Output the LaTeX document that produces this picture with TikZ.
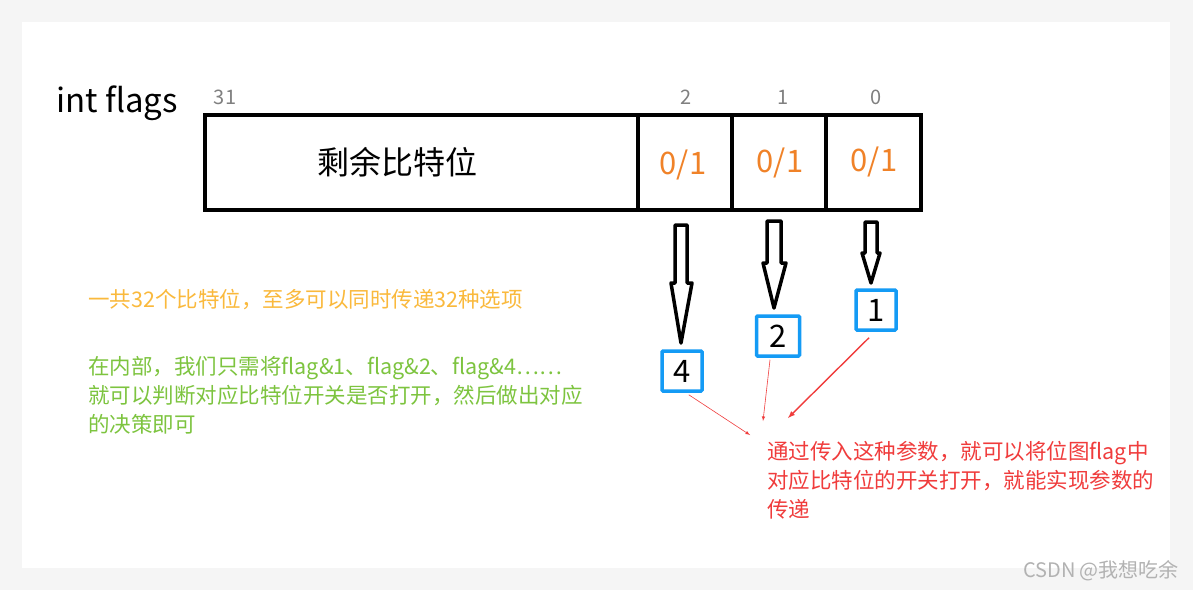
\documentclass[tikz,border=0pt]{standalone}
\usepackage{fontspec}
\setmainfont{Noto Sans CJK SC}
\begin{document}
\begin{tikzpicture}[x=1pt,y=-1pt,
  lbl/.style={font=\fontsize{21.5}{29}\selectfont,anchor=west,align=left,inner sep=0},
  bitno/.style={font=\fontsize{20}{24}\selectfont,text=gray},
  val/.style={font=\fontsize{31}{34}\selectfont,text={rgb,255:red,240;green,130;blue,40}},
  numbox/.style={draw={rgb,255:red,20;green,155;blue,245},line width=3.5pt,minimum width=40pt,minimum height=40pt,font=\fontsize{31}{34}\selectfont,inner sep=0,rounded corners=1pt},
  hollow/.style={draw=black,line width=3.5pt,fill=white,line join=round},
  redl/.style={draw={rgb,255:red,240;green,60;blue,60},-latex}]
\useasboundingbox (0,0) rectangle (1193,590);
\fill[gray!8] (0,0) rectangle (1193,590);
\fill[white] (22,22) rectangle (1170,568);
% main register
\draw[line width=4pt] (205,115) rectangle (921,210);
\foreach \x in {638,732,826} \draw[line width=3.5pt] (\x,115) -- (\x,210);
\node (rest) at (397,162) {\fontsize{32}{36}\selectfont 剩余比特位};
\node[val] (v2) at (683,165) {0/1};
\node[val] (v1) at (780,163) {0/1};
\node[val] (v0) at (874,162) {0/1};
\node[font=\fontsize{33}{36}\selectfont] (title) at (117,103) {int flags};
\node[bitno] (b31) at (225,97) {31};
\node[bitno] (b2) at (686,97) {2};
\node[bitno] (b1) at (783,97) {1};
\node[bitno] (b0) at (876,97) {0};
% hollow arrows
\draw[hollow] (675,225) -- (687,225) -- (687,283) -- (692,283) -- (681,343) -- (671,283) -- (675,283) -- cycle;
\draw[hollow] (767,221) -- (781,221) -- (781,263) -- (786,263) -- (774,308) -- (763,263) -- (767,263) -- cycle;
\draw[hollow] (865,222) -- (877,222) -- (877,253) -- (880,253) -- (871,283) -- (862,253) -- (865,253) -- cycle;
% boxes
\node[numbox] (n4) at (682,371) {4};
\node[numbox,minimum width=43pt] (n2) at (778,336) {2};
\node[numbox] (n1) at (876,310) {1};
% red connectors
\coordinate (t4) at (750,435);
\coordinate (t2) at (763,421);
\coordinate (t1) at (788,418);
\draw[redl,line width=0.6pt] (n4.south east) ++(-15,2) -- (t4);
\draw[redl,line width=0.6pt] (n2.south) ++(-8,2) -- (t2);
\draw[redl,line width=1.4pt] (n1.south) ++(-7,6) -- (t1);
% texts
\node[lbl,text={rgb,255:red,250;green,185;blue,60}] (t_or) at (88,300) {一共32个比特位，至多可以同时传递32种选项};
\node[lbl,text={rgb,255:red,125;green,196;blue,63},anchor=north west] (t_gr) at (88,356) {在内部，我们只需将flag\&1、flag\&2、flag\&4……\\就可以判断对应比特位开关是否打开，然后做出对应\\的决策即可};
\node[lbl,text={rgb,255:red,240;green,60;blue,60},anchor=north west] (t_rd) at (767,441) {通过传入这种参数，就可以将位图flag中\\对应比特位的开关打开，就能实现参数的\\传递};
\node[font=\fontsize{20}{22}\selectfont,text=gray!60] (wm) at (1101,571) {CSDN @我想吃余};
\end{tikzpicture}
\end{document}
